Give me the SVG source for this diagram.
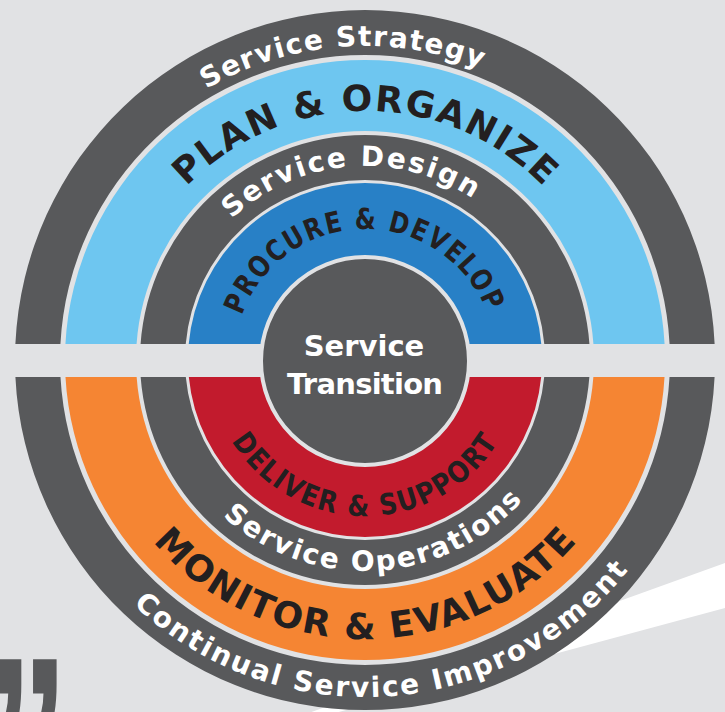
<svg xmlns="http://www.w3.org/2000/svg" width="725" height="712" viewBox="0 0 725 712">
<style>
.dk{fill:#58595b}
.lb{fill:#6ec6f0}
.bl{fill:#2880c6}
.rd{fill:#c21b2d}
.or{fill:#f58533}
.wt{fill:#ffffff;font-family:"DejaVu Sans",sans-serif;font-weight:bold;font-size:28px}
.bk{fill:#231f20;font-family:"DejaVu Sans",sans-serif;font-weight:bold}
</style>
<defs>
<path id="pSS" d="M51,360 A314,314 0 0 1 679,360"/>
<path id="pPO" d="M116,360 A249,249 0 0 1 614,360"/>
<path id="pSD" d="M171,360 A194,194 0 0 1 559,360"/>
<path id="pPD" d="M234,360 A131,131 0 0 1 496,360"/>
<path id="pDS" d="M209,360 A156,156 0 0 0 521,360"/>
<path id="pSO" d="M154,360 A211,211 0 0 0 576,360"/>
<path id="pME" d="M86,360 A279,279 0 0 0 644,360"/>
<path id="pCI" d="M28,360 A337,337 0 0 0 702,360"/>
</defs>
<rect width="725" height="712" fill="#e1e2e4"/>
<polygon points="725,563 725,608 231,741" fill="#ffffff"/>
<text x="-16" y="0" transform="translate(-1.5,652) scale(0.84,1.35)" dy="143" font-family="Liberation Sans, sans-serif" font-weight="bold" font-size="200" fill="#58595b">”</text>

<g id="service-strategy">
<path class="dk" d="M15.37,344 A350,350 0 0 1 714.63,344 L669.58,344 A305,305 0 0 0 60.42,344 Z"/>
<text class="wt" text-anchor="middle" textLength="285"><textPath href="#pSS" startOffset="47.58%">Service Strategy</textPath></text>
</g>
<g id="plan-organize">
<path class="lb" d="M65.43,344 A300,300 0 0 1 664.57,344 L593.44,344 A229,229 0 0 0 136.56,344 Z"/>
<text class="bk" font-size="36" text-anchor="middle" textLength="398"><textPath href="#pPO" startOffset="50%">PLAN &amp; ORGANIZE</textPath></text>
</g>
<g id="service-design">
<path class="dk" d="M140.57,344 A225,225 0 0 1 589.43,344 L544.29,344 A180,180 0 0 0 185.71,344 Z"/>
<text class="wt" text-anchor="middle" textLength="261"><textPath href="#pSD" startOffset="47.31%">Service Design</textPath></text>
</g>
<g id="procure-develop">
<path class="bl" d="M188.72,344 A177,177 0 0 1 541.28,344 L467.76,344 A104,104 0 0 0 262.24,344 Z"/>
<text class="bk" font-size="29" letter-spacing="2" text-anchor="middle" textLength="318" lengthAdjust="spacingAndGlyphs"><textPath href="#pPD" startOffset="49.67%">PROCURE &amp; DEVELOP</textPath></text>
</g>
<g id="continual-service-improvement">
<path class="dk" d="M15.41,377 A350,350 0 0 0 714.59,377 L669.53,377 A305,305 0 0 1 60.47,377 Z"/>
<text class="wt" text-anchor="middle" textLength="558"><textPath href="#pCI" startOffset="52.19%">Continual Service Improvement</textPath></text>
</g>
<g id="monitor-evaluate">
<path class="or" d="M65.48,377 A300,300 0 0 0 664.52,377 L593.37,377 A229,229 0 0 1 136.63,377 Z"/>
<text class="bk" font-size="36" text-anchor="middle" textLength="481"><textPath href="#pME" startOffset="50%">MONITOR &amp; EVALUATE</textPath></text>
</g>
<g id="service-operations">
<path class="dk" d="M140.64,377 A225,225 0 0 0 589.36,377 L544.20,377 A180,180 0 0 1 185.80,377 Z"/>
<text class="wt" text-anchor="middle" textLength="334"><textPath href="#pSO" startOffset="51.64%">Service Operations</textPath></text>
</g>
<g id="deliver-support">
<path class="rd" d="M188.82,377 A177,177 0 0 0 541.18,377 L467.60,377 A104,104 0 0 1 262.40,377 Z"/>
<text class="bk" font-size="29" letter-spacing="2" text-anchor="middle" textLength="320" lengthAdjust="spacingAndGlyphs"><textPath href="#pDS" startOffset="50%">DELIVER &amp; SUPPORT</textPath></text>
</g>
<g id="service-transition">
<circle cx="365" cy="361" r="104" fill="#58595b" stroke="#e1e2e4" stroke-width="4"/>
<text class="wt" text-anchor="middle" x="364" y="356" style="font-size:29px">Service</text>
<text class="wt" text-anchor="middle" x="365" y="394" style="font-size:29px" textLength="156">Transition</text>
</g>
</svg>
